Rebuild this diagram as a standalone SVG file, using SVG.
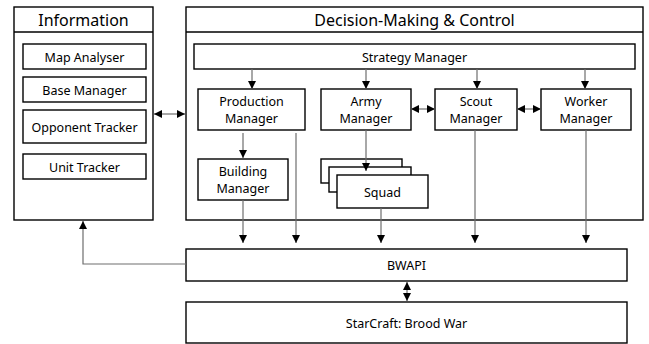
<svg xmlns="http://www.w3.org/2000/svg" width="649" height="344" viewBox="0 0 649 344">
<style>
.box{fill:#fff;stroke:#000;stroke-width:1.4}
.t{font-family:"Noto Sans","Open Sans",sans-serif;font-size:12.5px;fill:#000;text-anchor:middle;dominant-baseline:central}
.h{font-size:16px}
.c{fill:none;stroke:#6e6e6e;stroke-width:1.2}
</style>
<defs>
<marker id="ah" markerUnits="userSpaceOnUse" markerWidth="9" markerHeight="9" refX="8" refY="4.5" orient="auto-start-reverse" viewBox="0 0 9 9">
<path d="M0,0.5 L8,4.5 L0,8.5 z" fill="#000"/>
</marker>
</defs>
<rect width="649" height="344" fill="#fff"/>
<g id="information">
<rect class="box" x="14" y="7" width="139" height="213"/>
<line x1="14" y1="32" x2="153" y2="32" stroke="#000" stroke-width="1.4"/>
<text class="t h" x="83.5" y="20">Information</text>
</g>
<g id="map-analyser"><rect class="box" x="23" y="44" width="123" height="25"/><text class="t" x="84.5" y="57">Map Analyser</text></g>
<g id="base-manager"><rect class="box" x="23" y="77" width="123" height="25"/><text class="t" x="84.5" y="90">Base Manager</text></g>
<g id="opponent-tracker"><rect class="box" x="23" y="110" width="123" height="33"/><text class="t" x="84.5" y="127">Opponent Tracker</text></g>
<g id="unit-tracker"><rect class="box" x="23" y="154" width="123" height="25"/><text class="t" x="84.5" y="167">Unit Tracker</text></g>
<g id="decision">
<rect class="box" x="186" y="7" width="457" height="213"/>
<line x1="186" y1="32" x2="643" y2="32" stroke="#000" stroke-width="1.4"/>
<text class="t h" x="414.5" y="20">Decision-Making &amp; Control</text>
</g>
<g id="strategy-manager"><rect class="box" x="194" y="44" width="441" height="25"/><text class="t" x="414.5" y="57">Strategy Manager</text></g>
<g id="production-manager"><rect class="box" x="198" y="89" width="107" height="41"/><text class="t" x="251.5" y="101">Production</text><text class="t" x="251.5" y="118">Manager</text></g>
<g id="army-manager"><rect class="box" x="321" y="89" width="90" height="41"/><text class="t" x="366" y="101">Army</text><text class="t" x="366" y="118">Manager</text></g>
<g id="scout-manager"><rect class="box" x="435" y="89" width="82" height="41"/><text class="t" x="476" y="101">Scout</text><text class="t" x="476" y="118">Manager</text></g>
<g id="worker-manager"><rect class="box" x="541" y="89" width="90" height="41"/><text class="t" x="586" y="101">Worker</text><text class="t" x="586" y="118">Manager</text></g>
<g id="building-manager"><rect class="box" x="198" y="159" width="90" height="41"/><text class="t" x="243" y="171">Building</text><text class="t" x="243" y="188">Manager</text></g>
<g id="squad">
<rect class="box" x="321" y="159" width="81" height="24"/>
<rect class="box" x="329" y="167" width="82" height="25"/>
<rect class="box" x="337" y="175" width="91" height="33"/>
<text class="t" x="382.5" y="192">Squad</text>
</g>
<g id="bwapi"><rect class="box" x="186" y="249" width="441" height="32"/><text class="t" x="406.5" y="265">BWAPI</text></g>
<g id="starcraft"><rect class="box" x="186" y="302" width="441" height="41"/><text class="t" x="406.5" y="323">StarCraft: Brood War</text></g>
<g id="connectors">
<line class="c" x1="154" y1="114" x2="185" y2="114" marker-start="url(#ah)" marker-end="url(#ah)"/>
<line class="c" x1="252" y1="69" x2="252" y2="89" marker-end="url(#ah)"/>
<line class="c" x1="366" y1="69" x2="366" y2="89" marker-end="url(#ah)"/>
<line class="c" x1="477" y1="69" x2="477" y2="89" marker-end="url(#ah)"/>
<line class="c" x1="585" y1="69" x2="585" y2="89" marker-end="url(#ah)"/>
<line class="c" x1="411" y1="109" x2="435" y2="109" marker-start="url(#ah)" marker-end="url(#ah)"/>
<line class="c" x1="517" y1="109" x2="541" y2="109" marker-start="url(#ah)" marker-end="url(#ah)"/>
<line class="c" x1="243" y1="133" x2="243" y2="158" marker-end="url(#ah)"/>
<line class="c" x1="366" y1="130" x2="366" y2="171" marker-end="url(#ah)"/>
<line class="c" x1="243" y1="200" x2="243" y2="243" marker-end="url(#ah)"/>
<line class="c" x1="296" y1="133" x2="296" y2="243" marker-end="url(#ah)"/>
<line class="c" x1="381" y1="208" x2="381" y2="243" marker-end="url(#ah)"/>
<line class="c" x1="475" y1="130" x2="475" y2="243" marker-end="url(#ah)"/>
<line class="c" x1="586" y1="130" x2="586" y2="243" marker-end="url(#ah)"/>
<polyline class="c" points="186,264 83,264 83,221" marker-end="url(#ah)"/>
<line class="c" x1="407" y1="282" x2="407" y2="301" marker-start="url(#ah)" marker-end="url(#ah)"/>
</g>
</svg>
